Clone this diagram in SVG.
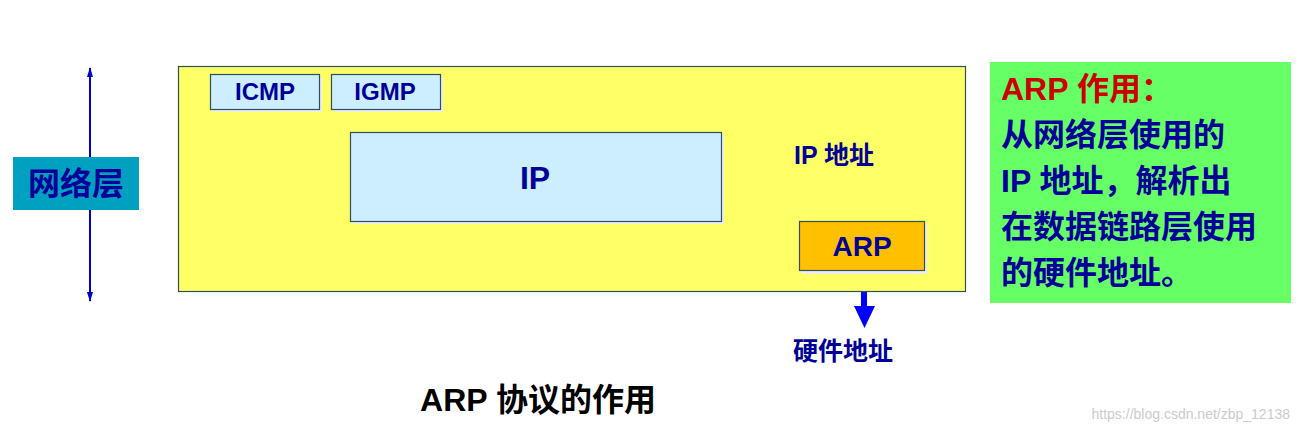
<svg xmlns="http://www.w3.org/2000/svg" width="1300" height="433" viewBox="0 0 1300 433">
<style>
.t{font-family:"Liberation Sans","Noto Sans CJK SC",sans-serif;font-weight:bold;fill:#000099}
.box{stroke:#2f4f5f;stroke-width:1.2}
</style>
<defs>
<marker id="sa" viewBox="0 0 10 10" refX="5" refY="5" markerWidth="4" markerHeight="8" orient="auto-start-reverse" markerUnits="userSpaceOnUse"><path d="M0,0L10,5L0,10z" fill="#0000cc"/></marker>
</defs>
<rect width="1300" height="433" fill="#fff"/>
<g id="connectors">
<line x1="90" y1="68" x2="90" y2="301" stroke="#0000cc" stroke-width="2"/>
<path d="M90,67l-3,10h6z M90,302l-3,-10h6z" fill="#0000cc"/>
<path d="M722,180H862V202" fill="none" stroke="#0000ff" stroke-width="6" stroke-linejoin="round"/>
<path d="M852,200h20l-10,20z" fill="#0000ff"/>
<path d="M864,274V309" fill="none" stroke="#0000ff" stroke-width="6"/>
<path d="M854,306h21l-10.5,22z" fill="#0000ff"/>
</g>
<g id="layer"><rect x="178.5" y="66.5" width="787" height="225" fill="#ffff66" class="box"/></g>
<g id="netlayer"><rect x="13" y="157" width="126" height="53" fill="#00a0c0"/><text x="76" y="195" class="t" font-size="32" text-anchor="middle" font-weight="normal">网络层</text></g>
<g id="icmp"><rect x="213" y="77" width="109" height="35" fill="#eee"/><rect x="210.5" y="74.5" width="109" height="35" fill="#cceeff" class="box"/><text x="265" y="100" class="t" font-size="24" text-anchor="middle">ICMP</text></g>
<g id="igmp"><rect x="334" y="77" width="109" height="35" fill="#eee"/><rect x="331.5" y="74.5" width="109" height="35" fill="#cceeff" class="box"/><text x="385" y="100" class="t" font-size="24" text-anchor="middle">IGMP</text></g>
<g id="ip"><rect x="353" y="135" width="371" height="89" fill="#eee"/><rect x="350.5" y="132.5" width="371" height="89" fill="#cceeff" class="box"/><text x="535" y="189" class="t" font-size="32" text-anchor="middle">IP</text></g>
<g id="arp"><rect x="802" y="224" width="125" height="50" fill="#eee"/><rect x="799.5" y="221.5" width="125" height="49" fill="#ffc000" class="box"/><text x="862" y="256" class="t" font-size="28" text-anchor="middle">ARP</text></g>
<text x="834" y="164" class="t" font-size="25" text-anchor="middle">IP 地址</text>
<text x="843" y="360" class="t" font-size="25" text-anchor="middle">硬件地址</text>
<g id="note"><rect x="990" y="62" width="301" height="241" fill="#66ff66"/>
<text x="1001" y="100" class="t" font-size="32" style="fill:#cc0000">ARP 作用：</text>
<text x="1001" y="146" class="t" font-size="32">从网络层使用的</text>
<text x="1001" y="192" class="t" font-size="32">IP 地址，解析出</text>
<text x="1001" y="238" class="t" font-size="32">在数据链路层使用</text>
<text x="1001" y="284" class="t" font-size="32">的硬件地址。</text></g>
<text x="538" y="411" class="t" font-size="32" text-anchor="middle" style="fill:#000">ARP 协议的作用</text>
<text x="1290" y="419" font-family="Liberation Sans,sans-serif" font-size="14" fill="#ccc" text-anchor="end">https://blog.csdn.net/zbp_12138</text>
</svg>
